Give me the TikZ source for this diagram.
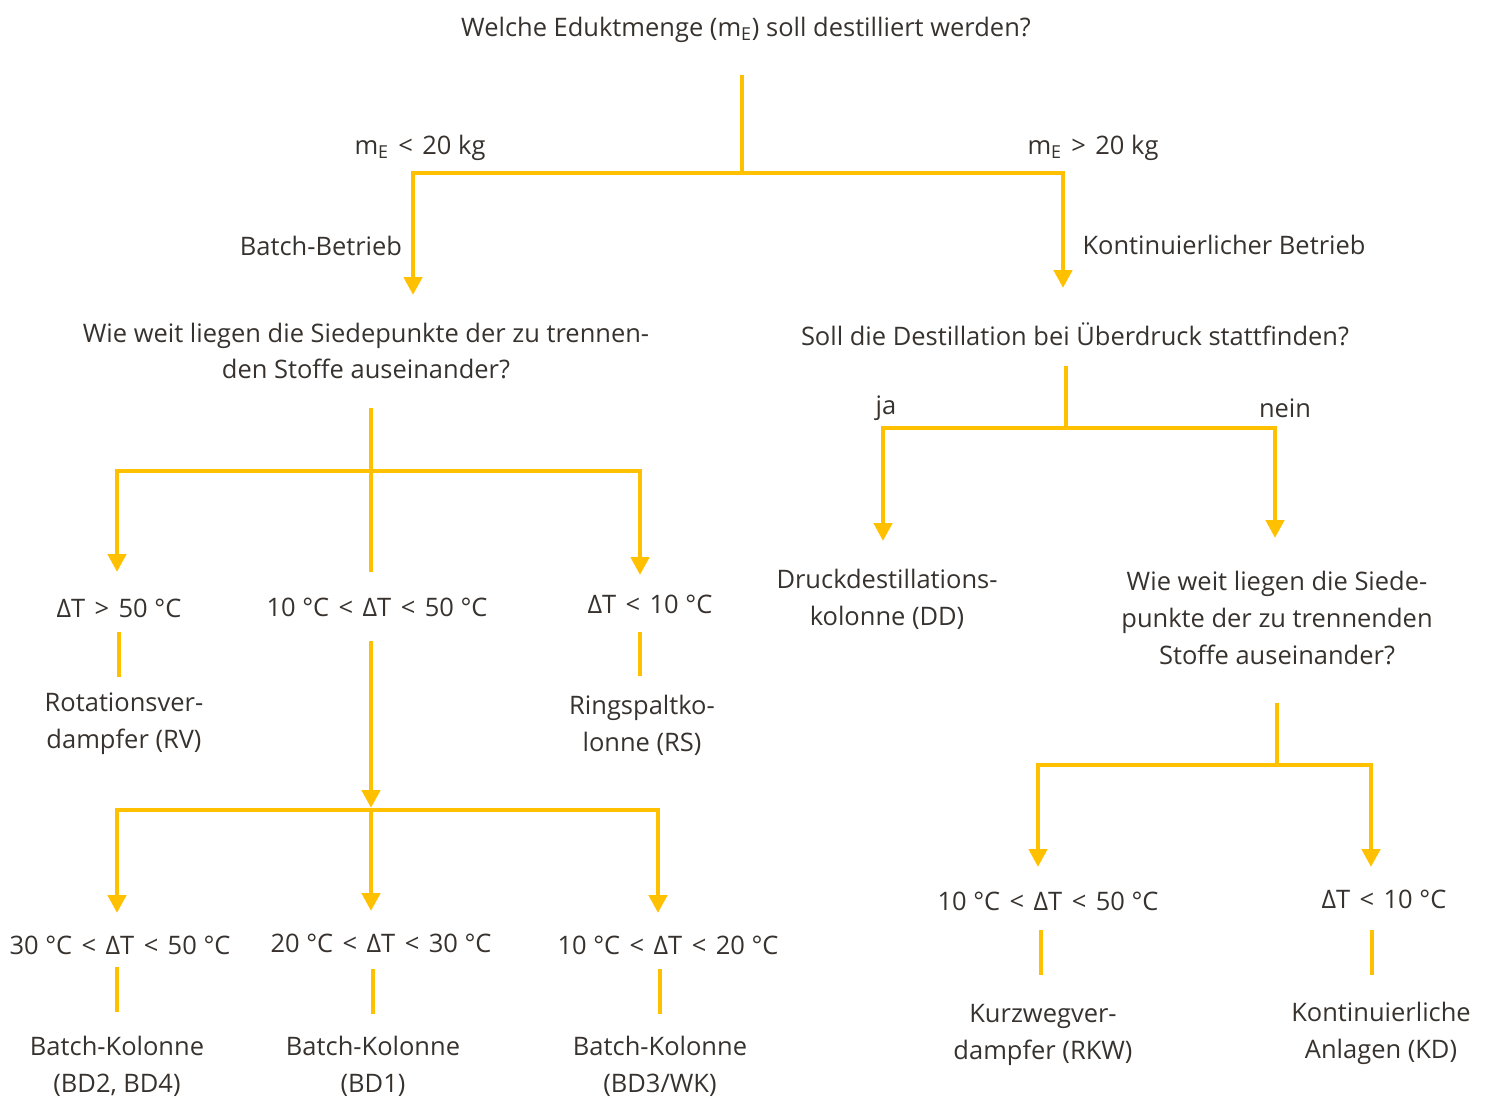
\documentclass[tikz,border=0pt]{standalone}
\usepackage{fontspec}
\setmainfont{Open Sans}
\usetikzlibrary{arrows.meta}
\definecolor{gelb}{RGB}{255,192,0}
\definecolor{schrift}{RGB}{55,50,46}
\newcommand{\kl}{\hspace{0.37em}<\hspace{0.37em}}
\newcommand{\gr}{\hspace{0.37em}>\hspace{0.37em}}

\begin{document}
\begin{tikzpicture}[x=0.02cm, y=-0.02cm, line join=miter,
		font=\fontsize{14.5}{21}\selectfont, text=schrift,
		ast/.style={draw=gelb, line width=2.8pt},
		pfeil/.style={ast, -{Triangle[length=0.36cm, width=0.36cm]}},
		txt/.style={align=center, inner sep=0pt, yshift=-0.06cm}
		]
		\useasboundingbox (0,0) rectangle (1485,1100);
		
		% Eduktmenge
		\node[txt] (frage) at (746,27) {Welche Eduktmenge (m\textsubscript{E}) soll destilliert werden?};
		\coordinate (s0) at (742,75);
		\coordinate (j0) at (742,173);
		\coordinate (e0l) at (413,295);
		\coordinate (e0r) at (1063,288);
		\draw[ast] (s0) -- (j0);
		\draw[pfeil] (j0) -| (e0l);
		\draw[pfeil] (j0) -| (e0r);
		\node[txt] (klein) at (420,145) {m\textsubscript{E}\kl 20 kg};
		\node[txt] (gross) at (1093,145) {m\textsubscript{E}\gr 20 kg};
		\node[txt] (batch) at (321,243) {Batch-Betrieb};
		\node[txt] (konti) at (1224,242) {Kontinuierlicher Betrieb};
		
		% Batch-Betrieb
		\node[txt] (siede1) at (366,348) {Wie weit liegen die Siedepunkte der zu trennen-\\den Stoffe auseinander?};
		\coordinate (s1) at (371,408);
		\coordinate (j1) at (371,471);
		\coordinate (e1l) at (117,572);
		\coordinate (e1m) at (371,572);
		\coordinate (e1r) at (640,575);
		\draw[ast] (s1) -- (e1m);
		\draw[pfeil] (j1) -| (e1l);
		\draw[pfeil] (j1) -| (e1r);
		\node[txt] (dt1) at (119,605) {ΔT\gr 50 °C};
		\node[txt] (dt2) at (377,604) {10 °C\kl ΔT\kl 50 °C};
		\node[txt] (dt3) at (650,601) {ΔT\kl 10 °C};
		\draw[ast] (119,632) -- (119,677);
		\draw[ast] (640,632) -- (640,676);
		\node[txt] (rv) at (124,721) {Rotationsver-\\dampfer (RV)};
		\node[txt] (rs) at (642,722) {Ringspaltko-\\lonne (RS)};
		
		% Batch-Kolonnen
		\coordinate (s2) at (371,641);
		\coordinate (j2) at (371,810);
		\coordinate (e2l) at (117,913);
		\coordinate (e2m) at (371,911);
		\coordinate (e2r) at (658,913);
		\draw[pfeil] (s2) -- (371,808);
		\draw[pfeil] (j2) -| (e2l);
		\draw[pfeil] (j2) -- (e2m);
		\draw[pfeil] (j2) -| (e2r);
		\node[txt] (dt4) at (120,942) {30 °C\kl ΔT\kl 50 °C};
		\node[txt] (dt5) at (381,940) {20 °C\kl ΔT\kl 30 °C};
		\node[txt] (dt6) at (668,942) {10 °C\kl ΔT\kl 20 °C};
		\draw[ast] (117,967) -- (117,1012);
		\draw[ast] (373,969) -- (373,1014);
		\draw[ast] (660,969) -- (660,1014);
		\node[txt] (bd2) at (117,1063) {Batch-Kolonne\\(BD2, BD4)};
		\node[txt] (bd1) at (373,1063) {Batch-Kolonne\\(BD1)};
		\node[txt] (bd3) at (660,1063) {Batch-Kolonne\\(BD3/WK)};
		
		% Kontinuierlicher Betrieb
		\node[txt] (druck) at (1075,331) {Soll die Destillation bei Überdruck stattfinden?};
		\coordinate (s3) at (1066,366);
		\coordinate (j3) at (1066,428);
		\coordinate (e3l) at (883,541);
		\coordinate (e3r) at (1275,538);
		\draw[ast] (s3) -- (j3);
		\draw[pfeil] (j3) -| (e3l);
		\draw[pfeil] (j3) -| (e3r);
		\node[txt] (ja) at (886,405) {ja};
		\node[txt] (nein) at (1285,405) {nein};
		\node[txt] (dd) at (887,596) {Druckdestillations-\\kolonne (DD)};
		\node[txt] (siede2) at (1277,615) {Wie weit liegen die Siede-\\punkte der zu trennenden\\Stoffe auseinander?};
		
		% Siedepunkte (kontinuierlich)
		\coordinate (s4) at (1277,703);
		\coordinate (j4) at (1277,765);
		\coordinate (e4l) at (1038,867);
		\coordinate (e4r) at (1371,867);
		\draw[ast] (s4) -- (j4);
		\draw[pfeil] (j4) -| (e4l);
		\draw[pfeil] (j4) -| (e4r);
		\node[txt] (dt7) at (1048,898) {10 °C\kl ΔT\kl 50 °C};
		\node[txt] (dt8) at (1384,896) {ΔT\kl 10 °C};
		\draw[ast] (1041,930) -- (1041,975);
		\draw[ast] (1372,930) -- (1372,975);
		\node[txt] (rkw) at (1043,1032) {Kurzwegver-\\dampfer (RKW)};
		\node[txt] (kd) at (1381,1030) {Kontinuierliche\\Anlagen (KD)};
		
\end{tikzpicture}
\end{document}
